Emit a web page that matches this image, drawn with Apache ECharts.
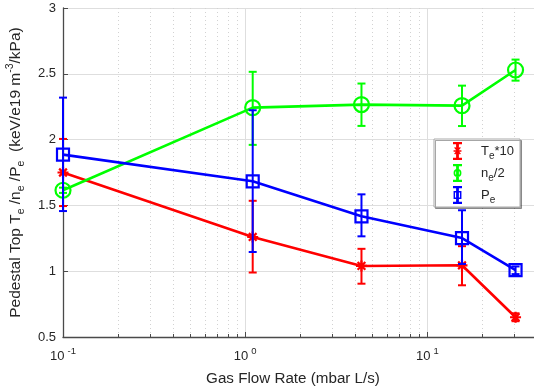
<!DOCTYPE html>
<html>
<head>
<meta charset="utf-8">
<script src="https://cdn.jsdelivr.net/npm/echarts@6/dist/echarts.min.js"></script>
<style>
  html, body { margin: 0; padding: 0; background: #fff; }
  #chart { width: 534px; height: 390px; }
</style>
</head>
<body>
<div id="chart"></div>
<script>
// Gas flow rate (mbar L/s) for each discharge
const flowRate = [0.1, 1.1, 4.35, 15.5, 30.5];

// Pedestal-top electron temperature, scaled by 10
const te10     = [1.75, 1.26, 1.04, 1.045, 0.65];
const te10Low  = [1.495, 0.99, 0.905, 0.893, 0.62];
const te10High = [2.005, 1.535, 1.17, 1.19, 0.68];

// Pedestal-top electron density, halved
const ne2     = [1.615, 2.243, 2.266, 2.258, 2.529];
const ne2Low  = [1.595, 1.96, 2.104, 2.103, 2.448];
const ne2High = [1.635, 2.515, 2.426, 2.41, 2.608];

// Pedestal-top electron pressure
const pe     = [1.886, 1.683, 1.417, 1.252, 1.008];
const peLow  = [1.457, 1.146, 1.265, 1.055, 0.978];
const peHigh = [2.319, 2.223, 1.584, 1.463, 1.036];

// Axis ranges and tick labels
const xRange = [0.1, 40];
const yRange = [0.5, 3];
const xTickValues = [0.1, 1, 10];
const xTickExponents = ['-1', '0', '1'];

const TEXT = '#262626';
const FONT = '"Liberation Sans", Arial, Helvetica, sans-serif';

// minor decade positions (2..9 × 10^k) for the dotted log grid
const minorX = [];
for (let k = -1; k <= 1; k++) {
  for (let m = 2; m <= 9; m++) {
    const v = m * Math.pow(10, k);
    if (v < xRange[1]) minorX.push(+v.toPrecision(3));
  }
}

function errorBars(name, color, low, high, z) {
  return {
    type: 'custom',
    name: name,
    z: z,
    silent: true,
    itemStyle: { color: color },
    data: flowRate.map((x, i) => [x, low[i], high[i]]),
    encode: { x: 0, y: [1, 2] },
    renderItem: function (params, api) {
      const x = api.value(0);
      const a = api.coord([x, api.value(1)]);
      const b = api.coord([x, api.value(2)]);
      const w = 4;
      const st = { stroke: color, lineWidth: 2 };
      return {
        type: 'group',
        children: [
          { type: 'line', shape: { x1: a[0], y1: a[1], x2: b[0], y2: b[1] }, style: st },
          { type: 'line', shape: { x1: a[0] - w, y1: a[1], x2: a[0] + w, y2: a[1] }, style: st },
          { type: 'line', shape: { x1: b[0] - w, y1: b[1], x2: b[0] + w, y2: b[1] }, style: st }
        ]
      };
    }
  };
}

function lineSeries(name, color, values, symbol, size, z) {
  return {
    type: 'line',
    name: name,
    z: z,
    data: flowRate.map((x, i) => [x, values[i]]),
    symbol: symbol,
    symbolSize: size,
    showAllSymbol: true,
    lineStyle: { color: color, width: 2.6 },
    itemStyle: { color: 'rgba(0,0,0,0)', borderColor: color, borderWidth: 2.2 },
    emphasis: { disabled: true },
    animation: false
  };
}

const asterisk = 'path://M0,5L10,5M5,0L5,10M1.5,1.5L8.5,8.5M8.5,1.5L1.5,8.5';

// legend glyphs: error bar with the series marker on it
const barGlyph = 'M5.5,0L10.5,0L10.5,32L5.5,32Z M0,0L16,0L16,4L0,4Z M0,28L16,28L16,32L0,32Z';
const legendIcons = {
  te: 'path://' + barGlyph +
      ' M1,14.5L15,14.5L15,17.5L1,17.5Z M2,10L4,9L14,21L12,22Z M12,9L14,10L4,22L2,21Z',
  ne: 'path://' + barGlyph +
      ' M1,16A7,7 0 1,1 15,16A7,7 0 1,1 1,16Z M3.8,16A4.2,4.2 0 1,0 12.2,16A4.2,4.2 0 1,0 3.8,16Z',
  pe: 'path://' + barGlyph +
      ' M1,9L15,9L15,23L1,23Z M3.6,11.6L3.6,20.4L12.4,20.4L12.4,11.6Z'
};

const legendText = {
  'Te10': '{gap|}T{sub|e}*10',
  'ne2': '{gap|}n{sub|e}/2',
  'Pe': '{gap|}P{sub|e}'
};

const option = {
  animation: false,
  backgroundColor: '#ffffff',
  textStyle: { fontFamily: FONT },
  grid: { left: 63, right: -3, top: 8, bottom: 53, outerBoundsMode: 'none' },
  xAxis: {
    type: 'log',
    logBase: 10,
    min: xRange[0],
    max: xRange[1],
    name: 'Gas Flow Rate (mbar L/s)',
    nameLocation: 'middle',
    nameGap: 30,
    nameTextStyle: { fontSize: 15.2, color: TEXT, fontFamily: FONT, padding: [0, 14, 0, 0] },
    axisLine: { lineStyle: { color: '#4a4a4a', width: 1.3 } },
    axisTick: { inside: true, length: 5, lineStyle: { color: '#4a4a4a' } },
    axisLabel: {
      margin: 9,
      showMaxLabel: false,
      color: TEXT,
      fontSize: 13,
      fontFamily: FONT,
      lineHeight: 20,
      formatter: function (v) {
        const i = xTickValues.findIndex(t => Math.abs(Math.log10(t) - Math.log10(v)) < 1e-6);
        return i < 0 ? '' : '10{sup|' + xTickExponents[i] + '}';
      },
      rich: {
        sup: { fontSize: 9.5, lineHeight: 8, verticalAlign: 'top', padding: [0, 0, 0, 3], color: TEXT, fontFamily: FONT }
      }
    },
    splitLine: { show: true, lineStyle: { color: '#dedede', width: 1 } }
  },
  yAxis: {
    type: 'value',
    min: yRange[0],
    max: yRange[1],
    interval: 0.5,
    name: 'Pedestal Top T{sub|e} /n{sub|e} /P{sub|e}  (keV/e19 m{sup|-3}/kPa)',
    nameLocation: 'middle',
    nameGap: 35,
    nameTextStyle: {
      fontSize: 15.5, color: TEXT, fontFamily: FONT, lineHeight: 22,
      rich: {
        sub: { fontSize: 10.5, lineHeight: 10, verticalAlign: 'bottom', color: TEXT, fontFamily: FONT },
        sup: { fontSize: 10.5, lineHeight: 10, verticalAlign: 'top', color: TEXT, fontFamily: FONT }
      }
    },
    axisLine: { show: true, lineStyle: { color: '#4a4a4a', width: 1.3 } },
    axisTick: { show: true, inside: true, length: 5, lineStyle: { color: '#4a4a4a' } },
    axisLabel: { color: TEXT, fontSize: 13, fontFamily: FONT, margin: 7 },
    splitLine: { show: true, lineStyle: { color: '#dedede', width: 1 } }
  },
  legend: {
    orient: 'vertical',
    left: 434,
    top: 139,
    padding: [2, 6, 2, 19],
    itemGap: 2,
    itemWidth: 9,
    itemHeight: 18,
    selectedMode: false,
    backgroundColor: '#ffffff',
    borderColor: '#a8a8a8',
    borderWidth: 1,
    borderRadius: 0,
    shadowColor: 'rgba(0,0,0,0.35)',
    shadowOffsetX: 1.5,
    shadowOffsetY: 1.5,
    shadowBlur: 0,
    itemStyle: { borderWidth: 0 },
    formatter: n => legendText[n],
    textStyle: {
      fontSize: 13, color: TEXT, fontFamily: FONT, lineHeight: 20,
      rich: {
        gap: { width: 14 },
        sub: { fontSize: 10, lineHeight: 10, verticalAlign: 'bottom', color: TEXT, fontFamily: FONT }
      }
    },
    data: [
      { name: 'Te10', icon: legendIcons.te, itemStyle: { color: '#ff0000', borderWidth: 0 } },
      { name: 'ne2', icon: legendIcons.ne, itemStyle: { color: '#00ff00', borderWidth: 0 } },
      { name: 'Pe', icon: legendIcons.pe, itemStyle: { color: '#0000ff', borderWidth: 0 } }
    ]
  },
  series: [
    {
      // dotted minor grid and minor ticks of the log axis
      type: 'custom',
      name: 'minor',
      z: 1,
      silent: true,
      data: minorX.map(v => [v, yRange[0], yRange[1]]),
      encode: { x: 0, y: [1, 2] },
      renderItem: function (params, api) {
        const v = api.value(0);
        const a = api.coord([v, api.value(1)]);
        const b = api.coord([v, api.value(2)]);
        const px = Math.round(a[0]) + 0.5;
        return {
          type: 'group',
          children: [
            { type: 'line', shape: { x1: px, y1: a[1], x2: px, y2: b[1] },
              style: { stroke: '#d2d2d2', lineWidth: 1, lineDash: [1, 3] } },
            { type: 'line', shape: { x1: px, y1: a[1], x2: px, y2: a[1] - 3 },
              style: { stroke: '#4a4a4a', lineWidth: 1 } }
          ]
        };
      }
    },
    errorBars('Te10', '#ff0000', te10Low, te10High, 3),
    lineSeries('Te10', '#ff0000', te10, asterisk, 11, 3),
    errorBars('ne2', '#00ff00', ne2Low, ne2High, 4),
    lineSeries('ne2', '#00ff00', ne2, 'circle', 15, 4),
    errorBars('Pe', '#0000ff', peLow, peHigh, 5),
    lineSeries('Pe', '#0000ff', pe, 'rect', 12, 5)
  ]
};

const chart = echarts.init(document.getElementById('chart'), null, { renderer: 'canvas' });
chart.setOption(option);
</script>
</body>
</html>
